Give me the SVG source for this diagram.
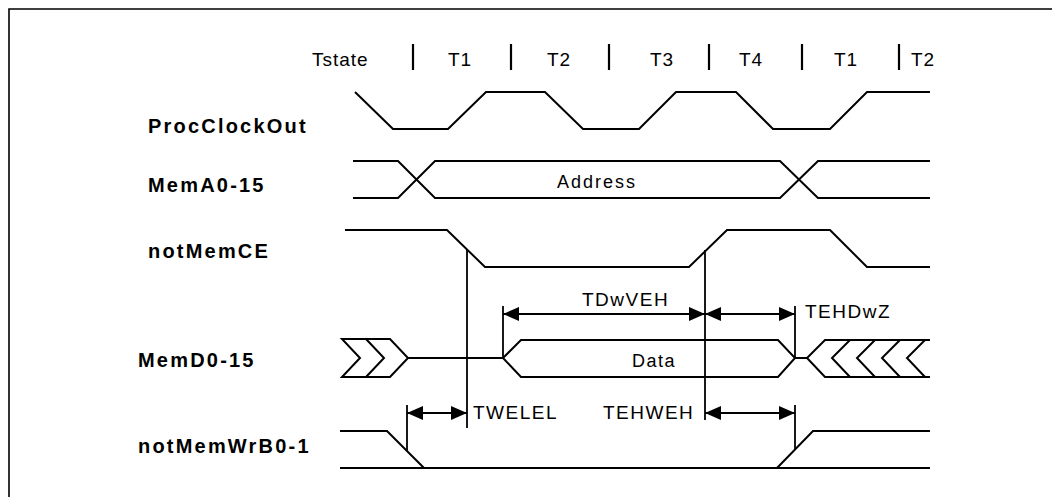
<svg xmlns="http://www.w3.org/2000/svg" width="1052" height="497" viewBox="0 0 1052 497">
<defs>
<style>
.sig{fill:none;stroke:#000;stroke-width:2;stroke-linejoin:miter}
.frame{fill:none;stroke:#000;stroke-width:1.6}
.lbl{font-family:"Liberation Sans",Arial,sans-serif;font-weight:bold;font-size:20px;letter-spacing:2.2px;fill:#000}
.ts{font-family:"Liberation Sans",Arial,sans-serif;font-size:19px;letter-spacing:1px;fill:#000}
.tm{font-family:"Liberation Sans",Arial,sans-serif;font-size:19px;letter-spacing:1.5px;fill:#000}
.bar{stroke:#000;stroke-width:2.2}
.dim{fill:none;stroke:#000;stroke-width:1.8}
.arr{fill:none;stroke:#000;stroke-width:1.8;marker-start:url(#ah);marker-end:url(#ah)}
</style>
<marker id="ah" markerUnits="userSpaceOnUse" markerWidth="16" markerHeight="14" viewBox="0 0 16 14" refX="16" refY="7" orient="auto-start-reverse">
<path d="M0,0 L16,7 L0,14 z" fill="#000"/>
</marker>
</defs>
<rect width="1052" height="497" fill="#fff"/>
<path class="frame" d="M9,497 V9 H1052"/>

<g id="tstate">
<text class="ts" x="312" y="66">Tstate</text>
<line class="bar" x1="413" y1="44" x2="413" y2="70"/>
<text class="ts" x="460" y="66" text-anchor="middle">T1</text>
<line class="bar" x1="511" y1="44" x2="511" y2="70"/>
<text class="ts" x="559" y="66" text-anchor="middle">T2</text>
<line class="bar" x1="609" y1="44" x2="609" y2="70"/>
<text class="ts" x="662" y="66" text-anchor="middle">T3</text>
<line class="bar" x1="709" y1="44" x2="709" y2="70"/>
<text class="ts" x="751" y="66" text-anchor="middle">T4</text>
<line class="bar" x1="802" y1="44" x2="802" y2="70"/>
<text class="ts" x="846" y="66" text-anchor="middle">T1</text>
<line class="bar" x1="899" y1="44" x2="899" y2="70"/>
<text class="ts" x="923" y="66" text-anchor="middle">T2</text>
</g>

<g id="procclockout">
<text class="lbl" x="148" y="133">ProcClockOut</text>
<polyline class="sig" points="355,92 393,129 448,129 486,92 545,92 583,129 639,129 676,92 736,92 773,129 830,129 867,92 930,92"/>
</g>

<g id="memA">
<text class="lbl" x="148" y="192">MemA0-15</text>
<polyline class="sig" points="353,161 398,161 435,198 780,198 818,161 930,161"/>
<polyline class="sig" points="353,198 398,198 435,161 780,161 818,198 930,198"/>
<text class="tm" x="597" y="188" text-anchor="middle" style="font-size:18px;letter-spacing:2px">Address</text>
</g>

<g id="notMemCE">
<text class="lbl" x="148" y="258">notMemCE</text>
<polyline class="sig" points="345,230 447,230 485,267 689,267 727,230 830,230 867,267 930,267"/>
</g>

<g id="memD">
<text class="lbl" x="138" y="367">MemD0-15</text>
<path class="sig" d="M342,339 H390 L408,358 L390,377 H342 L360,358 Z"/>
<polyline class="sig" points="366,339 384,358 366,377"/>
<line class="sig" x1="408" y1="358" x2="503" y2="358"/>
<path class="sig" d="M503,358 L521,340 H778 L795,358 L778,377 H521 Z"/>
<text class="tm" x="654" y="367" text-anchor="middle" style="font-size:18px">Data</text>
<line class="sig" x1="795" y1="358" x2="807" y2="358"/>
<path class="sig" d="M930,340 H825 L807,358 L825,377 H930"/>
<polyline class="sig" points="850,340 832,358 850,377"/>
<polyline class="sig" points="875,340 857,358 875,377"/>
<polyline class="sig" points="900,340 882,358 900,377"/>
<polyline class="sig" points="925,340 907,358 925,377"/>
</g>

<g id="notMemWrB">
<text class="lbl" x="138" y="453">notMemWrB0-1</text>
<polyline class="sig" points="340,431 387,431 424,468"/>
<line class="sig" x1="340" y1="468" x2="930" y2="468"/>
<polyline class="sig" points="777,468 813,431 930,431"/>
</g>

<g id="connectors">
<line class="dim" x1="467" y1="250" x2="467" y2="428"/>
<line class="dim" x1="705" y1="250" x2="705" y2="420"/>
<line class="dim" x1="503" y1="306" x2="503" y2="358"/>
<line class="dim" x1="795" y1="306" x2="795" y2="358"/>
<line class="dim" x1="407" y1="405" x2="407" y2="451"/>
<line class="dim" x1="795" y1="405" x2="795" y2="450"/>
<line class="arr" x1="503" y1="314" x2="705" y2="314"/>
<line class="arr" x1="705" y1="314" x2="795" y2="314"/>
<line class="arr" x1="407" y1="413" x2="467" y2="413"/>
<line class="arr" x1="705" y1="413" x2="795" y2="413"/>
<text class="tm" x="582" y="306">TDwVEH</text>
<text class="tm" x="805" y="318">TEHDwZ</text>
<text class="tm" x="473" y="419">TWELEL</text>
<text class="tm" x="603" y="419">TEHWEH</text>
</g>
</svg>
